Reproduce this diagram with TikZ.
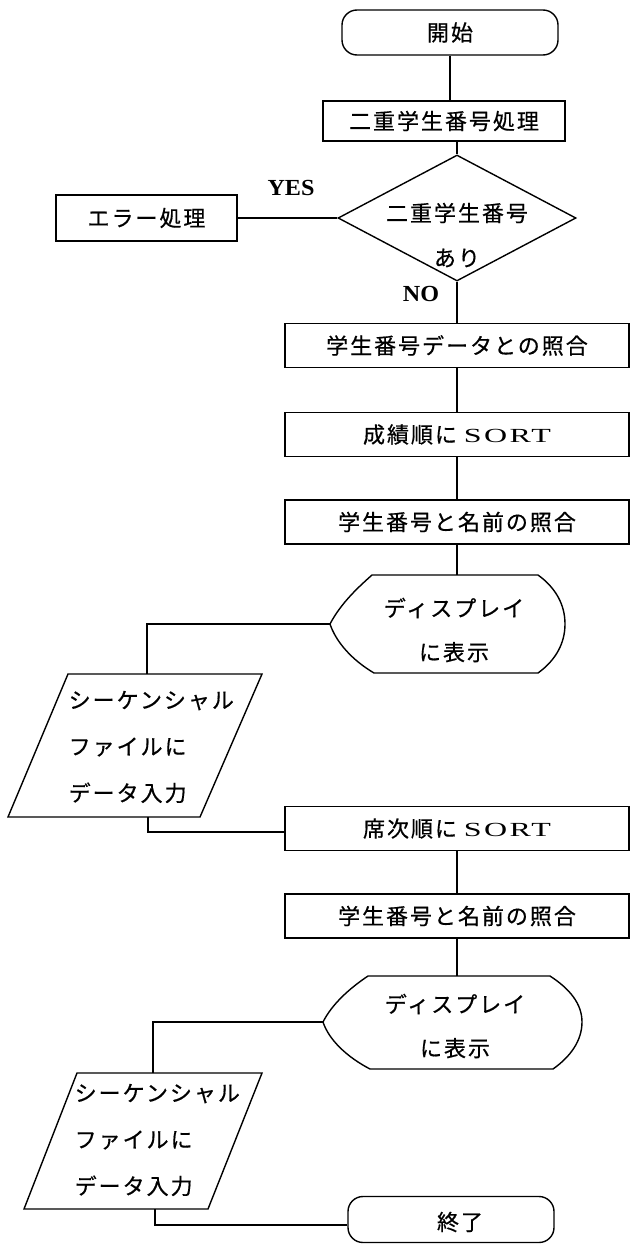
\documentclass[tikz,border=0pt]{standalone}
\usepackage{fontspec}
\newfontfamily\cjk[LetterSpace=9,FakeBold=0.6]{Noto Sans CJK JP}
\newfontfamily\lat[FakeStretch=1.05]{Liberation Serif}
\newfontfamily\latw[FakeStretch=1.6,LetterSpace=12]{Liberation Serif}
\newcommand\mysort{\latw\fontsize{20pt}{22pt}\selectfont}
\usetikzlibrary{shapes.geometric,calc}
\begin{document}
\begin{tikzpicture}[x=1pt,y=-1pt,line width=1.4pt,
  every node/.style={inner sep=0pt,font=\cjk\fontsize{22pt}{26pt}\selectfont},
  procbox/.style={draw,minimum width=344pt,minimum height=44pt},
  termbox/.style={draw,rounded corners=15pt,minimum height=45pt},
  decbox/.style={draw,diamond,minimum width=238pt,minimum height=126pt},
  lbl/.style={font=\lat\bfseries\fontsize{23pt}{25pt}\selectfont},
  twoline/.style={align=center,font=\cjk\fontsize{22pt}{44pt}\selectfont},
  threeline/.style={anchor=west,align=left,font=\cjk\fontsize{22pt}{46.5pt}\selectfont}
]
\useasboundingbox (0,0) rectangle (634,1244);

% top part
\node[termbox,minimum width=216pt] (start) at (450,32.5) {開始};
\node[procbox,minimum width=242pt,minimum height=40pt] (b1) at (444,121) {二重学生番号処理};
\node[decbox] (dec) at (457,218) {};
\node (dtx1) at (457,213) {二重学生番号};
\node (dtx2) at (457,258) {あり};
\node[draw,minimum width=181pt,minimum height=46pt] (err) at (146.5,218) {エラー処理};
\node[lbl] (yes) at (291,188) {YES};
\node[lbl] (no) at (421,294) {NO};

\node[procbox] (b2) at (457,345.5) {学生番号データとの照合};
\node[procbox] (b3) at (457,434.5) {成績順に {\mysort SORT}};
\node[procbox] (b4) at (457,522) {学生番号と名前の照合};

% display 1
\coordinate (d1n) at (457,575);
\coordinate (d1w) at (330,624);
\draw (372,575) -- (538,575) .. controls (556,588) and (565,605) .. (565,624)
      .. controls (565,643) and (556,660) .. (538,673) -- (374,673)
      .. controls (352,660) and (336,642) .. (d1w)
      .. controls (340,605) and (355,590) .. (372,575) -- cycle;
\node[twoline] (d1t) at (454,630) {ディスプレイ\\に表示};

% parallelogram 1
\coordinate (p1t) at (147,674);
\coordinate (p1b) at (148,817);
\coordinate (j1) at (148,832);
\draw (68,674) -- (262,674) -- (200,817) -- (8,817) -- cycle;
\node[threeline] (p1x) at (68,747) {シーケンシャル\\ファイルに\\データ入力};

\node[procbox] (b5) at (457,828.5) {席次順に {\mysort SORT}};
\node[procbox] (b6) at (457,916) {学生番号と名前の照合};

% display 2
\coordinate (d2n) at (457,976);
\coordinate (d2w) at (323,1022);
\draw (368,976) -- (550,976) .. controls (570,989) and (582,1004) .. (582,1022)
      .. controls (582,1041) and (570,1057) .. (553,1069) -- (370,1069)
      .. controls (347,1057) and (329,1040) .. (d2w)
      .. controls (332,1004) and (350,988) .. (368,976) -- cycle;
\node[twoline] (d2t) at (455,1026) {ディスプレイ\\に表示};

% parallelogram 2
\coordinate (p2t) at (153,1073);
\coordinate (p2b) at (155,1209);
\coordinate (j2) at (155,1225);
\draw (77,1073) -- (262,1073) -- (208,1209) -- (24,1209) -- cycle;
\node[threeline] (p2x) at (74,1140) {シーケンシャル\\ファイルに\\データ入力};

\node[termbox,minimum width=206pt,minimum height=46pt] (end) at (451,1219.5) {};
\node (endt) at (460,1222) {終了};

% connectors
\draw (start.south) -- (start.south |- b1.north);
\draw (b1.south -| dec.north) -- (dec.north);
\draw (err.east) -- (dec.west);
\draw (dec.south) -- (dec.south |- b2.north);
\draw (b2.south) -- (b3.north);
\draw (b3.south) -- (b4.north);
\draw (b4.south) -- (d1n);
\draw (d1w) -| (p1t);
\draw (p1b) -- (j1) -- (j1 -| b5.west);
\draw (b5.south) -- (b6.north);
\draw (b6.south) -- (d2n);
\draw (d2w) -| (p2t);
\draw (p2b) -- (j2) -- (j2 -| end.west);
\end{tikzpicture}
\end{document}
